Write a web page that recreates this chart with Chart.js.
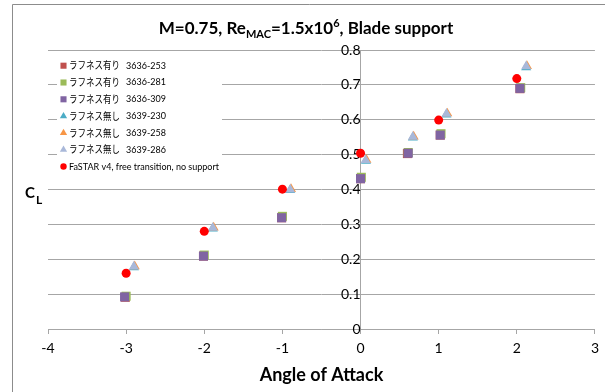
<!DOCTYPE html>
<html>
<head>
<meta charset="utf-8">
<script src="https://cdn.jsdelivr.net/npm/chart.js@4/dist/chart.umd.min.js"></script>
<style>
  html, body { margin: 0; padding: 0; background: #fff; overflow: hidden; }
  #wrap { width: 605px; height: 392px; position: relative; }
</style>
</head>
<body>
<div id="wrap"><canvas id="c" width="605" height="392"></canvas></div>
<script>
// Axis ticks
const xTickValues = [-4, -3, -2, -1, 0, 1, 2, 3];
const yTickValues = [0, 0.1, 0.2, 0.3, 0.4, 0.5, 0.6, 0.7, 0.8];
const yTickLabels = ['0', '0.1', '0.2', '0.3', '0.4', '0.5', '0.6', '0.7', '0.8'];

// Legend text
const runLabels = ['ラフネス有り', 'ラフネス有り', 'ラフネス有り', 'ラフネス無し', 'ラフネス無し', 'ラフネス無し', 'FaSTAR v4, free transition, no support'];
const runIds = ['3636-253', '3636-281', '3636-309', '3639-230', '3639-258', '3639-286', ''];

// Wind-tunnel runs, roughness on (angle of attack / CL)
const aoa3636_253 = [-3.01, -2.01, -1.01, 0.00, 0.60, 1.02, 2.04];
const cl3636_253  = [0.091, 0.209, 0.319, 0.431, 0.503, 0.556, 0.689];
const aoa3636_281 = [-3.00, -2.00, -1.00, 0.01, 0.61, 1.03, 2.05];
const cl3636_281  = [0.094, 0.212, 0.323, 0.435, 0.506, 0.560, 0.692];
const aoa3636_309 = [-3.02, -2.01, -1.01, 0.00, 0.61, 1.02, 2.04];
const cl3636_309  = [0.092, 0.209, 0.319, 0.431, 0.504, 0.556, 0.690];

// Wind-tunnel runs, roughness off
const aoa3639_230 = [-2.90, -1.89, -0.90, 0.07, 0.67, 1.10, 2.12];
const cl3639_230  = [0.177, 0.288, 0.398, 0.482, 0.549, 0.615, 0.750];
const aoa3639_258 = [-2.89, -1.88, -0.89, 0.075, 0.68, 1.11, 2.13];
const cl3639_258  = [0.180, 0.291, 0.401, 0.485, 0.552, 0.618, 0.754];
const aoa3639_286 = [-2.90, -1.89, -0.90, 0.065, 0.67, 1.10, 2.12];
const cl3639_286  = [0.179, 0.290, 0.400, 0.484, 0.551, 0.617, 0.753];

// CFD (FaSTAR v4)
const aoaFastar = [-3, -2, -1, 0, 1, 2];
const clFastar  = [0.160, 0.280, 0.401, 0.504, 0.599, 0.718];

const NUM_FONT = 'Lato, "Liberation Sans", sans-serif';
const JP_FONT = '"Noto Sans CJK JP", sans-serif';
const GRID = '#a6a6a6';

function pts(xs, ys) { return xs.map((x, i) => ({ x: x, y: ys[i] })); }

const styles = [
  { color: '#C0504D', shape: 'rect', r: 6.4 },
  { color: '#9BBB59', shape: 'rect', r: 6.4 },
  { color: '#8064A2', shape: 'rect', r: 6.4 },
  { color: '#4BACC6', shape: 'triangle', r: 5.8 },
  { color: '#F79646', shape: 'triangle', r: 5.8 },
  { color: '#A9B8D9', shape: 'triangle', r: 5.8 },
  { color: '#FF0000', shape: 'circle', r: 4.5 }
];
const seriesData = [
  pts(aoa3636_253, cl3636_253), pts(aoa3636_281, cl3636_281), pts(aoa3636_309, cl3636_309),
  pts(aoa3639_230, cl3639_230), pts(aoa3639_258, cl3639_258), pts(aoa3639_286, cl3639_286),
  pts(aoaFastar, clFastar)
];

const datasets = seriesData.map((d, i) => ({
  label: runLabels[i] + ' ' + runIds[i],
  data: d,
  showLine: false,
  pointStyle: styles[i].shape,
  pointRadius: styles[i].r,
  pointHoverRadius: styles[i].r,
  backgroundColor: styles[i].color,
  borderColor: styles[i].color,
  borderWidth: 0,
  order: seriesData.length - i   // later series are painted over earlier ones
}));

function drawMarker(ctx, shape, r, color, x, y) {
  ctx.save();
  ctx.fillStyle = color;
  ctx.beginPath();
  if (shape === 'rect') {
    const s = Math.SQRT1_2 * r;
    ctx.rect(x - s, y - s, 2 * s, 2 * s);
  } else if (shape === 'triangle') {
    for (let k = 0; k < 3; k++) {
      const a = k * 2 * Math.PI / 3;
      const px = x + Math.sin(a) * r, py = y - Math.cos(a) * r;
      if (k === 0) ctx.moveTo(px, py); else ctx.lineTo(px, py);
    }
    ctx.closePath();
  } else {
    ctx.arc(x, y, r, 0, 2 * Math.PI);
  }
  ctx.fill();
  ctx.restore();
}

// text squeezed horizontally to a given width
function fillTextWidth(ctx, text, x, y, w) {
  const natural = ctx.measureText(text).width;
  const k = Math.min(1, w / natural);
  ctx.save();
  ctx.translate(x, y);
  ctx.scale(k, 1);
  ctx.fillText(text, 0, 0);
  ctx.restore();
}

// Outer frame, chart title, CL axis title and the in-plot legend
const decorations = {
  id: 'decorations',
  beforeDraw(chart) {
    const ctx = chart.ctx;
    ctx.save();
    ctx.fillStyle = '#fff';
    ctx.fillRect(0, 0, chart.width, chart.height);
    ctx.strokeStyle = '#8c8c8c';
    ctx.lineWidth = 1;
    ctx.beginPath();
    ctx.moveTo(12.5, chart.height + 2);
    ctx.lineTo(12.5, 4.5);
    ctx.lineTo(chart.width + 2, 4.5);
    ctx.stroke();

    // title with subscript / superscript
    const parts = [
      { t: 'M=0.75, Re', s: 17, dy: 0 },
      { t: 'MAC', s: 11, dy: 4 },
      { t: '=1.5x10', s: 17, dy: 0 },
      { t: '6', s: 11, dy: -7 },
      { t: ', Blade support', s: 17, dy: 0 }
    ];
    let total = 0;
    parts.forEach(p => { ctx.font = 'bold ' + p.s + 'px ' + NUM_FONT; p.w = ctx.measureText(p.t).width; total += p.w; });
    let tx = 306 - total / 2;
    ctx.fillStyle = '#000';
    ctx.textBaseline = 'alphabetic';
    ctx.textAlign = 'left';
    parts.forEach(p => {
      ctx.font = 'bold ' + p.s + 'px ' + NUM_FONT;
      ctx.fillText(p.t, tx, 34 + p.dy);
      tx += p.w;
    });

    // CL
    ctx.font = 'bold 15px ' + NUM_FONT;
    ctx.fillText('C', 25, 198);
    const cw = ctx.measureText('C').width;
    ctx.font = 'bold 12px ' + NUM_FONT;
    ctx.fillText('L', 26 + cw, 204);
    ctx.restore();
  },
  beforeDatasetsDraw(chart) {
    const ctx = chart.ctx;
    ctx.save();
    ctx.fillStyle = '#fff';
    ctx.fillRect(57, 55, 165, 121);
    ctx.textBaseline = 'middle';
    ctx.textAlign = 'left';
    ctx.fillStyle = '#000';
    for (let i = 0; i < runLabels.length; i++) {
      const y = 65.7 + i * 16.8;
      const st = styles[i];
      const lr = st.shape === 'circle' ? 3.2 : (st.shape === 'rect' ? 4.3 : 4.2);
      drawMarker(ctx, st.shape, lr, st.color, 63.5, y);
      if (runIds[i]) {
        ctx.font = '10px ' + JP_FONT;
        fillTextWidth(ctx, runLabels[i], 69, y, 51);
        ctx.font = '9px ' + NUM_FONT;
        ctx.fillText(runIds[i], 126, y);
      } else {
        ctx.font = '9.5px ' + NUM_FONT;
        fillTextWidth(ctx, runLabels[i], 69, y, 150);
      }
    }
    ctx.restore();
  }
};

new Chart(document.getElementById('c'), {
  type: 'scatter',
  data: { datasets: datasets },
  plugins: [decorations],
  options: {
    responsive: false,
    animation: false,
    events: [],
    layout: { padding: { left: 48, right: 8, top: 50, bottom: 0 } },
    plugins: { legend: { display: false }, tooltip: { enabled: false }, title: { display: false } },
    scales: {
      x: {
        type: 'linear',
        position: 'bottom',
        min: -4, max: 3,
        afterBuildTicks(s) { s.ticks = xTickValues.map(v => ({ value: v })); },
        afterFit(s) { s.height = 63; },
        ticks: { color: '#000', font: { family: NUM_FONT, size: 14 }, padding: 6, maxRotation: 0,
                 callback: (v) => String(v) },
        grid: { drawOnChartArea: false, drawTicks: true, tickLength: 5, color: GRID },
        border: { color: GRID },
        title: { display: true, text: 'Angle of Attack', color: '#000',
                 font: { family: NUM_FONT, size: 18, weight: 'bold' }, padding: { top: 0, bottom: 6 } }
      },
      y: {
        type: 'linear',
        position: { x: 0 },
        min: 0, max: 0.8,
        afterBuildTicks(s) { s.ticks = yTickValues.map(v => ({ value: v })); },
        ticks: { color: '#000', font: { family: NUM_FONT, size: 14 }, padding: 7,
                 callback: (v, i) => yTickLabels[i] },
        grid: { drawTicks: false, color: GRID },
        border: { color: GRID }
      }
    }
  }
});
</script>
</body>
</html>
